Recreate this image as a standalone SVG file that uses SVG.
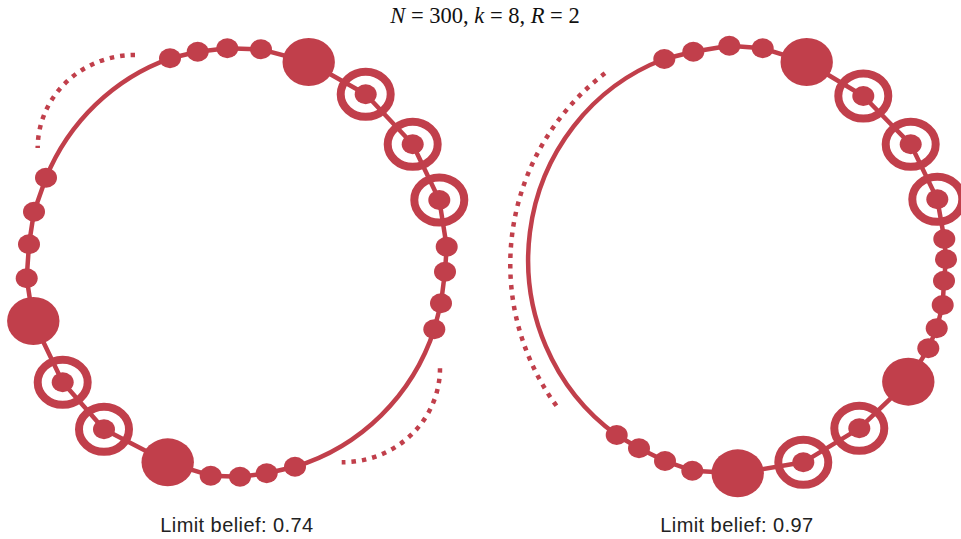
<svg xmlns="http://www.w3.org/2000/svg" width="961" height="539" viewBox="0 0 961 539">
<style>
.edge{fill:none;stroke:#c13f4b;stroke-width:4.5;stroke-linejoin:round}
.dash{fill:none;stroke:#c13f4b;stroke-width:4.5;stroke-dasharray:4.5 6}
.dot{fill:#c13f4b}
.ring{fill:none;stroke:#c13f4b;stroke-width:8}
.lbl{font-family:"Liberation Sans",Arial,sans-serif;font-size:20px;fill:#222;text-anchor:middle}
.title{font-family:"Liberation Serif","Times New Roman",serif;font-size:22.5px;fill:#111;text-anchor:middle}
</style>
<defs>
<ellipse id="sd" rx="11" ry="10" class="dot"/>
<ellipse id="bd" rx="26.2" ry="24" class="dot"/>
<g id="rn"><ellipse rx="25" ry="22.5" class="ring"/><ellipse rx="11" ry="10" class="dot"/></g>
</defs>
<rect width="961" height="539" fill="#fff"/>
<text class="title" x="485" y="23"><tspan font-style="italic">N</tspan> = 300, <tspan font-style="italic">k</tspan> = 8, <tspan font-style="italic">R</tspan> = 2</text>

<g id="connectors">
<path class="edge" d="M46 177.7A210 214 0 0 1 170 58.3L197.7 51.7L227.3 48.3L261 49.3L308.7 62L365.7 94.3L412.7 144.3L439.3 200L446.7 246.7L445 271.7L441 303.3L434.3 329.3A210 214 0 0 1 295 466.7L266.7 473.3L240 476.7L210.7 475.7L167.7 462.3L104 429.3L62.7 382.3L33.3 321L26.7 278.3L29 244.3L34 211.7Z"/>
<path class="edge" d="M616.7 435A208 214 0 0 1 664.3 59L693.3 51.7L729.3 45.7L762.7 48.3L806.7 62L863.3 96L910.7 144.3L937.3 199.3L944.3 239L946 259.3L944 280.7L942.7 305L936.7 328.3L928.3 348.3L908.3 381.7L859.3 428.3L803.3 462.3L737.7 473.3L692.3 470.7L665 461L639 448.3Z"/>
<path class="dash" d="M135 55A97 93 0 0 0 37.7 148"/>
<path class="dash" d="M440 368.3A98 94 0 0 1 341.7 462.3"/>
<path class="dash" d="M605 73.3A240 240 0 0 0 559 409.3"/>
</g>

<g id="left-nodes">
<g id="L1"><use href="#sd" x="170" y="58.3"/></g>
<g id="L2"><use href="#sd" x="197.7" y="51.7"/></g>
<g id="L3"><use href="#sd" x="227.3" y="48.3"/></g>
<g id="L4"><use href="#sd" x="261" y="49.3"/></g>
<g id="L5"><use href="#bd" x="308.7" y="62"/></g>
<g id="L6"><use href="#rn" x="365.7" y="94.3"/></g>
<g id="L7"><use href="#rn" x="412.7" y="144.3"/></g>
<g id="L8"><use href="#rn" x="439.3" y="200"/></g>
<g id="L9"><use href="#sd" x="446.7" y="246.7"/></g>
<g id="L10"><use href="#sd" x="445" y="271.7"/></g>
<g id="L11"><use href="#sd" x="441" y="303.3"/></g>
<g id="L12"><use href="#sd" x="434.3" y="329.3"/></g>
<g id="L13"><use href="#sd" x="295" y="466.7"/></g>
<g id="L14"><use href="#sd" x="266.7" y="473.3"/></g>
<g id="L15"><use href="#sd" x="240" y="476.7"/></g>
<g id="L16"><use href="#sd" x="210.7" y="475.7"/></g>
<g id="L17"><use href="#bd" x="167.7" y="462.3"/></g>
<g id="L18"><use href="#rn" x="104" y="429.3"/></g>
<g id="L19"><use href="#rn" x="62.7" y="382.3"/></g>
<g id="L20"><use href="#bd" x="33.3" y="321"/></g>
<g id="L21"><use href="#sd" x="26.7" y="278.3"/></g>
<g id="L22"><use href="#sd" x="29" y="244.3"/></g>
<g id="L23"><use href="#sd" x="34" y="211.7"/></g>
<g id="L24"><use href="#sd" x="46" y="177.7"/></g>
</g>

<g id="right-nodes">
<g id="R1"><use href="#sd" x="664.3" y="59"/></g>
<g id="R2"><use href="#sd" x="693.3" y="51.7"/></g>
<g id="R3"><use href="#sd" x="729.3" y="45.7"/></g>
<g id="R4"><use href="#sd" x="762.7" y="48.3"/></g>
<g id="R5"><use href="#bd" x="806.7" y="62"/></g>
<g id="R6"><use href="#rn" x="863.3" y="96"/></g>
<g id="R7"><use href="#rn" x="910.7" y="144.3"/></g>
<g id="R8"><use href="#rn" x="937.3" y="199.3"/></g>
<g id="R9"><use href="#sd" x="944.3" y="239"/></g>
<g id="R10"><use href="#sd" x="946" y="259.3"/></g>
<g id="R11"><use href="#sd" x="944" y="280.7"/></g>
<g id="R12"><use href="#sd" x="942.7" y="305"/></g>
<g id="R13"><use href="#sd" x="936.7" y="328.3"/></g>
<g id="R14"><use href="#sd" x="928.3" y="348.3"/></g>
<g id="R15"><use href="#bd" x="908.3" y="381.7"/></g>
<g id="R16"><use href="#rn" x="859.3" y="428.3"/></g>
<g id="R17"><use href="#rn" x="803.3" y="462.3"/></g>
<g id="R18"><use href="#bd" x="737.7" y="473.3"/></g>
<g id="R19"><use href="#sd" x="692.3" y="470.7"/></g>
<g id="R20"><use href="#sd" x="665" y="461"/></g>
<g id="R21"><use href="#sd" x="639" y="448.3"/></g>
<g id="R22"><use href="#sd" x="616.7" y="435"/></g>
</g>

<g id="labels">
<text class="lbl" x="236.7" y="532" textLength="153">Limit belief: 0.74</text>
<text class="lbl" x="736.7" y="532" textLength="153">Limit belief: 0.97</text>
</g>
</svg>
